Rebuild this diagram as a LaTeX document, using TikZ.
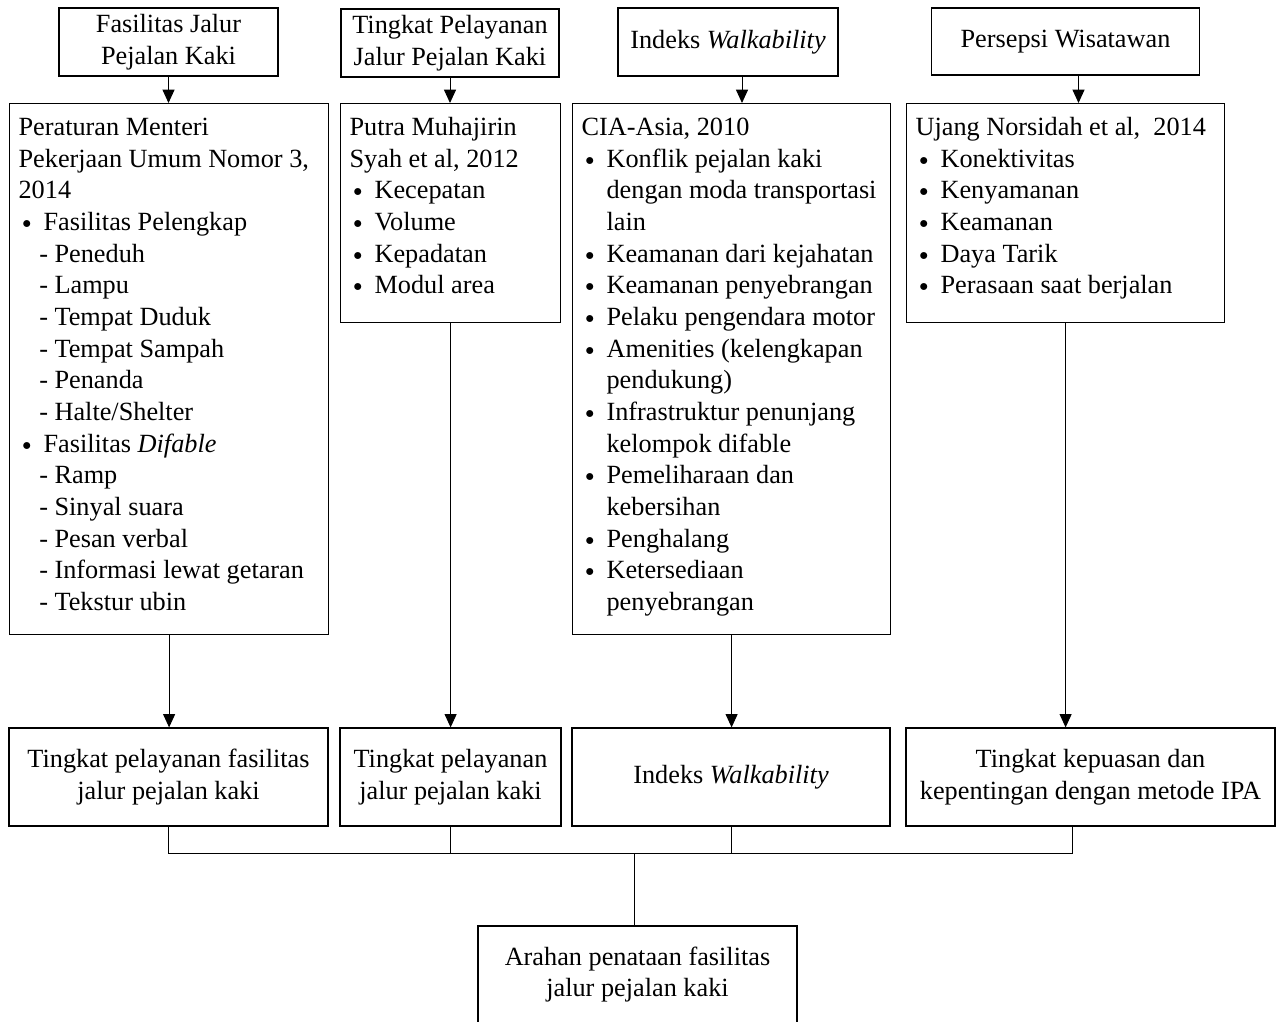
\documentclass[tikz,border=0pt]{standalone}
\usepackage{fontspec}
\setmainfont{Liberation Serif}
\usetikzlibrary{arrows.meta}

\newlength\px
\setlength\px{0.75pt}
\newcommand{\butir}{\hspace*{2.8pt}\makebox[15.95pt][l]{\raisebox{1.7pt}{\scalebox{0.65}{$\bullet$}}}}
\newcommand{\strip}{\hspace*{15.5pt}- }
\newcommand{\lanjut}{\hspace*{18.75pt}}

\tikzset{
    kotak/.style={draw, line width=0.9pt, inner sep=0pt, align=center,
        font=\fontsize{19.7}{23.75}\selectfont},
    daftar/.style={kotak, align=flush left, anchor=north west,
        inner xsep=6.75pt, inner ysep=0pt, text height=24pt},
    panah/.style={-{Triangle[length=10pt,width=9pt]}, line width=0.75pt},
    garis/.style={line width=0.75pt},
}

\begin{document}
\begin{tikzpicture}[x=1\px, y=-1\px]
    \clip (0, 0) rectangle (1278, 1021);
    \fill[white] (0, 0) rectangle (1278, 1021);

    % baris atas
    \node[kotak, minimum width=219\px, minimum height=68\px] (tA) at (168.5, 42) {Fasilitas Jalur\\Pejalan Kaki};
    \node[kotak, minimum width=218\px, minimum height=68\px] (tB) at (450, 43) {Tingkat Pelayanan\\Jalur Pejalan Kaki};
    \node[kotak, minimum width=220\px, minimum height=68\px] (tC) at (728, 42) {Indeks \textit{Walkability}\strut};
    \node[kotak, minimum width=268\px, minimum height=67\px] (tD) at (1065.5, 41.5) {Persepsi Wisatawan\strut};

    % baris tengah
    \node[daftar, text width=225.75pt, text depth=374.25pt] (lA) at (9, 103) {%
        Peraturan Menteri\\
        Pekerjaan Umum Nomor 3,\\
        2014\\
        \butir Fasilitas Pelengkap\\
        \strip Peneduh\\
        \strip Lampu\\
        \strip Tempat Duduk\\
        \strip Tempat Sampah\\
        \strip Penanda\\
        \strip Halte/Shelter\\
        \butir Fasilitas \textit{Difable}\\
        \strip Ramp\\
        \strip Sinyal suara\\
        \strip Pesan verbal\\
        \strip Informasi lewat getaran\\
        \strip Tekstur ubin};
    \node[daftar, text width=151.5pt, text depth=140.25pt] (lB) at (340, 103) {%
        Putra Muhajirin\\
        Syah et al, 2012\\
        \butir Kecepatan\\
        \butir Volume\\
        \butir Kepadatan\\
        \butir Modul area};
    \node[daftar, text width=225pt, text depth=374.25pt] (lC) at (572, 103) {%
        CIA-Asia, 2010\\
        \butir Konflik pejalan kaki\\
        \lanjut dengan moda transportasi\\
        \lanjut lain\\
        \butir Keamanan dari kejahatan\\
        \butir Keamanan penyebrangan\\
        \butir Pelaku pengendara motor\\
        \butir Amenities (kelengkapan\\
        \lanjut pendukung)\\
        \butir Infrastruktur penunjang\\
        \lanjut kelompok difable\\
        \butir Pemeliharaan dan\\
        \lanjut kebersihan\\
        \butir Penghalang\\
        \butir Ketersediaan\\
        \lanjut penyebrangan};
    \node[daftar, text width=225pt, text depth=140.25pt] (lD) at (906, 103) {%
        Ujang Norsidah et al,\ \ 2014\\
        \butir Konektivitas\\
        \butir Kenyamanan\\
        \butir Keamanan\\
        \butir Daya Tarik\\
        \butir Perasaan saat berjalan};

    % baris hasil
    \node[kotak, minimum width=319\px, minimum height=98\px] (hA) at (168.5, 777) {Tingkat pelayanan fasilitas\\jalur pejalan kaki};
    \node[kotak, minimum width=221\px, minimum height=98\px] (hB) at (450.5, 777) {Tingkat pelayanan\\jalur pejalan kaki};
    \node[kotak, minimum width=318\px, minimum height=98\px] (hC) at (731, 777) {Indeks \textit{Walkability}\strut};
    \node[kotak, minimum width=369\px, minimum height=98\px] (hD) at (1090.5, 777) {Tingkat kepuasan dan\\kepentingan dengan metode IPA};

    \node[kotak, minimum width=319\px, minimum height=97\px] (akhir) at (637.5, 974.5) {Arahan penataan fasilitas\\jalur pejalan kaki};

    % panah
    \coordinate (cC) at ([xshift=14\px]tC.south);
    \coordinate (cD) at ([xshift=13\px]tD.south);
    \coordinate (kD) at ([xshift=-18.5\px]hD.south);
    \coordinate (bus) at (634, 853);
    \draw[panah] (tA.south) -- (tA.south |- lA.north);
    \draw[panah] (tB.south) -- (tB.south |- lB.north);
    \draw[panah] (cC) -- (cC |- lC.north);
    \draw[panah] (cD) -- (cD |- lD.north);
    \draw[panah] (lA.south) -- (lA.south |- hA.north);
    \draw[panah] (lB.south) -- (lB.south |- hB.north);
    \draw[panah] (lC.south) -- (lC.south |- hC.north);
    \draw[panah] (lD.south) -- (lD.south |- hD.north);

    % penggabung
    \draw[garis] (hA.south) |- (kD |- bus) -- (kD);
    \draw[garis] (hB.south) -- (hB.south |- bus);
    \draw[garis] (hC.south) -- (hC.south |- bus);
    \draw[garis] (bus) -- (bus |- akhir.north);
\end{tikzpicture}
\end{document}
